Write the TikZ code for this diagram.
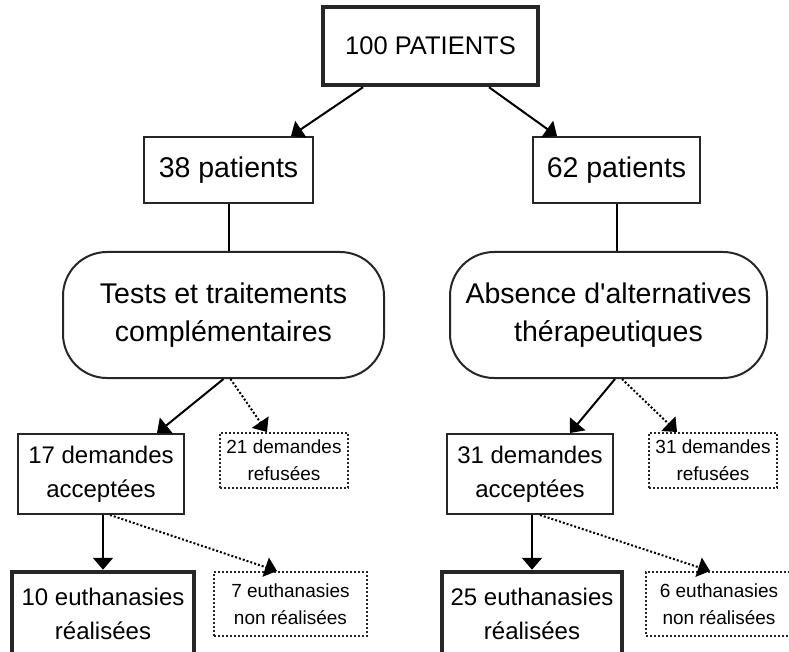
\documentclass[tikz,border=0pt]{standalone}
\usepackage{fontspec}
\setmainfont{Liberation Sans}
\usetikzlibrary{arrows.meta,calc}
\begin{document}
\begin{tikzpicture}[x=1pt,y=-1pt,
  box/.style={draw=black!85,line width=2pt,inner sep=0pt,align=center,text=black},
  thickbox/.style={box,line width=4.5pt},
  dotbox/.style={box,dotted,line width=2pt},
  roundbox/.style={box,rounded corners=44pt},
  bigfont/.style={font=\fontsize{28.5}{38}\selectfont},
  midfont/.style={font=\fontsize{24}{34}\selectfont},
  smallfont/.style={font=\fontsize{19}{27}\selectfont},
  conn/.style={line width=2pt,-{Triangle[length=12pt,width=20pt]}},
  dconn/.style={conn,dotted},
  link/.style={line width=2pt}
]
\fill[white] (0,0) rectangle (789,652);
\useasboundingbox (0,0) rectangle (789,652);

\node[thickbox,font=\fontsize{25.5}{30}\selectfont,minimum width=215pt,minimum height=78pt] (top) at (430.5,46) {100 PATIENTS};

\node[box,bigfont,minimum width=169pt,minimum height=66pt] (p38) at (228.5,170) {38 patients};
\node[box,bigfont,minimum width=167pt,minimum height=66pt] (p62) at (616.5,170) {62 patients};

\node[roundbox,bigfont,minimum width=321pt,minimum height=126pt] (tests) at (223.5,315) {Tests et traitements\\compl\'ementaires};
\node[roundbox,bigfont,minimum width=317pt,minimum height=126pt] (absence) at (608.5,315) {Absence d\textquotesingle alternatives\\th\'erapeutiques};

\node[box,midfont,minimum width=166pt,minimum height=80pt] (a17) at (101,474) {17 demandes\\accept\'ees};
\node[dotbox,smallfont,minimum width=128pt,minimum height=55pt] (r21) at (284,460.5) {21 demandes\\refus\'ees};
\node[box,midfont,minimum width=166pt,minimum height=80pt] (a31) at (530,474) {31 demandes\\accept\'ees};
\node[dotbox,smallfont,minimum width=128pt,minimum height=55pt] (r31) at (713,460.5) {31 demandes\\refus\'ees};

\node[thickbox,midfont,minimum width=182pt,minimum height=84pt] (e10) at (103,614) {10 euthanasies\\r\'ealis\'ees};
\node[dotbox,smallfont,minimum width=153pt,minimum height=64pt] (n7) at (290.5,604) {7 euthanasies\\non r\'ealis\'ees};
\node[thickbox,midfont,minimum width=180pt,minimum height=84pt] (e25) at (532,614) {25 euthanasies\\r\'ealis\'ees};
\node[dotbox,smallfont,minimum width=146pt,minimum height=64pt] (n6) at (719,604) {6 euthanasies\\non r\'ealis\'ees};

\draw[conn] ([xshift=-67.5pt]top.south) -- ([xshift=62.5pt]p38.north);
\draw[conn] ([xshift=58.5pt]top.south) -- ([xshift=-59.5pt]p62.north);

\draw[link] (p38.south) -- (p38.south |- tests.north);
\draw[link] (p62.south) -- (p62.south |- absence.north);

\draw[conn] (tests.south) -- ([xshift=56pt]a17.north);
\draw[dconn] ([xshift=7pt]tests.south) -- ([xshift=-17pt]r21.north);
\draw[conn] ([xshift=6.5pt]absence.south) -- ([xshift=40pt]a31.north);
\draw[dconn] ([xshift=13.5pt]absence.south) -- ([xshift=-36pt]r31.north);

\draw[conn] ([xshift=2pt]a17.south) -- (e10.north);
\draw[dconn] ([xshift=9pt]a17.south) -- ([xshift=-13.5pt]n7.north);
\draw[conn] ([xshift=2pt]a31.south) -- (e25.north);
\draw[dconn] ([xshift=10pt]a31.south) -- ([xshift=-9pt]n6.north);
\end{tikzpicture}
\end{document}
